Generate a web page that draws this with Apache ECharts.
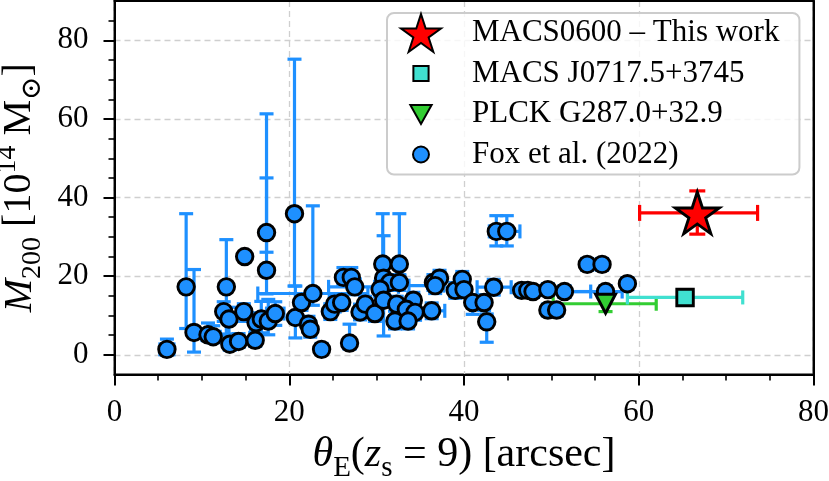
<!DOCTYPE html>
<html>
<head>
<meta charset="utf-8">
<script src="https://cdn.jsdelivr.net/npm/echarts@6/dist/echarts.min.js"></script>
<style>
  html, body { margin: 0; padding: 0; background: #fff; }
  #main { width: 829px; height: 481px; }
</style>
</head>
<body>
<div id="main"></div>
<script>
// Einstein radius theta_E(z_s=9) [arcsec] vs M200 [1e14 Msun]

// Fox et al. (2022)
var foxTheta   = [6.0, 8.2, 9.1, 10.7, 11.3, 12.8, 12.5, 13.1, 13.2, 14.2, 14.9, 14.8, 16.1, 16.2, 16.8, 17.6, 18.4, 17.4, 17.4, 20.6,
                  20.7, 21.4, 22.7, 22.2, 22.4, 23.7, 24.7, 25.2, 26.2, 27.1, 27.5, 26.0, 26.9, 28.1, 28.7, 29.8, 30.7, 32.6, 30.8, 31.5,
                  32.6, 30.4, 30.8, 32.3, 34.2, 33.4, 34.4, 36.3, 32.1, 33.6, 36.5, 37.2, 36.7, 39.0, 39.8, 40.0, 41.0, 42.3, 42.6, 43.4,
                  43.7, 44.9, 46.6, 47.3, 47.9, 49.6, 51.5, 49.6, 50.6, 54.1, 55.8, 56.2, 58.7];
var foxMass    = [1.4, 17.3, 5.7, 5.1, 4.6, 17.3, 11.0, 9.1, 2.7, 3.4, 25.0, 11.0, 3.7, 8.2, 9.1, 8.6, 10.5, 31.1, 21.5, 35.9,
                  9.5, 13.3, 15.6, 7.8, 6.5, 1.4, 11.0, 12.9, 19.7, 19.7, 17.3, 13.3, 3.0, 10.9, 12.9, 10.5, 23.1, 23.1, 19.5, 18.4,
                  18.4, 16.7, 13.9, 12.9, 13.9, 11.6, 10.8, 11.2, 8.6, 8.6, 18.4, 19.5, 17.6, 16.4, 19.2, 16.6, 13.3, 13.3, 8.4, 17.2,
                  31.4, 31.4, 16.4, 16.4, 16.1, 16.6, 16.1, 11.4, 11.4, 23.0, 23.0, 16.1, 18.1];
var foxThetaLo = [0.8, 0.3, 0.3, 0.7, 0.5, 0.3, 0.4, 0.4, 0.5, 0.5, 0.3, 0.5, 0.5, 0.5, 1.0, 0.5, 1.0, 0.3, 0.3, 0.3,
                  0.4, 0.5, 6.3, 0.5, 0.5, 0.5, 0.5, 0.5, 0.5, 0.5, 3.0, 0.5, 0.5, 0.5, 0.5, 0.5, 0.4, 0.4, 0.4, 0.5,
                  0.5, 0.5, 0.5, 0.5, 0.6, 0.5, 0.5, 0.5, 0.5, 0.5, 0.5, 0.5, 3.0, 0.5, 0.5, 0.5, 0.5, 0.5, 0.5, 1.9,
                  0.8, 1.5, 0.5, 0.5, 0.5, 0.5, 0.5, 0.5, 0.5, 0.5, 0.5, 4.7, 0.5];
var foxThetaHi = [0.8, 0.3, 0.3, 0.5, 0.8, 0.3, 0.4, 0.4, 0.5, 0.5, 0.3, 0.5, 0.5, 0.5, 1.0, 0.5, 1.0, 0.3, 0.3, 0.3,
                  0.4, 0.5, 6.3, 0.5, 0.5, 0.5, 0.5, 0.5, 0.5, 0.5, 5.0, 0.5, 0.5, 0.5, 0.5, 0.5, 0.4, 0.4, 0.4, 0.5,
                  0.5, 0.5, 0.5, 0.5, 0.6, 0.5, 0.5, 1.5, 0.5, 0.5, 0.5, 0.5, 1.0, 0.5, 0.5, 0.5, 0.5, 0.5, 0.5, 2.0,
                  0.8, 1.5, 0.5, 0.5, 0.5, 0.5, 3.0, 0.5, 0.5, 0.5, 0.5, 1.9, 0.5];
var foxMassLo  = [1.4, 10.6, 5.0, 1.5, 1.5, 12.0, 2.5, 4.0, 1.5, 1.5, 1.0, 2.5, 1.5, 2.0, 3.5, 3.5, 3.0, 5.0, 6.0, 18.4,
                  5.2, 2.0, 3.0, 2.0, 2.0, 1.0, 2.0, 2.0, 2.0, 2.0, 2.0, 2.0, 1.5, 2.0, 2.0, 2.0, 3.0, 3.0, 2.0, 2.0,
                  2.0, 2.0, 9.1, 2.0, 2.0, 2.0, 2.0, 2.0, 2.0, 2.0, 2.0, 2.0, 2.0, 2.0, 2.0, 2.0, 3.0, 2.0, 5.2, 2.0,
                  3.7, 3.7, 1.5, 1.5, 1.5, 1.5, 1.5, 1.5, 1.5, 1.5, 1.5, 1.5, 1.5];
var foxMassHi  = [2.6, 18.6, 16.0, 3.0, 2.8, 12.0, 2.5, 3.0, 2.0, 2.0, 1.0, 2.0, 2.0, 2.5, 4.5, 5.5, 3.0, 30.2, 23.5, 39.3,
                  8.0, 2.0, 22.3, 2.0, 2.0, 1.5, 2.0, 2.0, 2.5, 2.5, 2.0, 2.0, 4.8, 2.0, 2.0, 2.0, 12.8, 12.8, 10.8, 2.0,
                  2.0, 2.0, 2.0, 2.0, 2.0, 2.0, 2.0, 2.0, 2.5, 2.0, 2.0, 2.0, 2.0, 2.0, 2.0, 2.0, 2.0, 2.0, 2.0, 2.0,
                  4.0, 4.0, 1.5, 1.5, 1.5, 1.5, 1.5, 1.5, 1.5, 1.5, 1.5, 1.5, 1.5];

// single clusters: [theta, mass, thetaLo, thetaHi, massLo, massHi]
var macs0600 = [66.7, 36.1, 6.6, 6.9, 5.4, 5.6];
var macs0717 = [65.3, 14.6, 6.6, 6.6, 0.5, 0.5];
var plck287  = [56.2, 13.0, 6.0, 5.8, 2.0, 2.0];

var xTicks = [0, 20, 40, 60, 80];
var yTicks = [0, 20, 40, 60, 80];
var yMinor = [5, 10, 15, 25, 30, 35, 45, 50, 55, 65, 70, 75, 85];

var FONT = "'Liberation Serif', 'DejaVu Serif', serif";

var foxRows = foxTheta.map(function (t, i) {
    return [t, foxMass[i], foxThetaLo[i], foxThetaHi[i], foxMassLo[i], foxMassHi[i]];
});

function errRender(color, cap, width) {
    return function (params, api) {
        var x = api.value(0), y = api.value(1);
        var c = api.coord([x, y]);
        var l = api.coord([x - api.value(2), y]);
        var r = api.coord([x + api.value(3), y]);
        var lo = api.coord([x, y - api.value(4)]);
        var hi = api.coord([x, y + api.value(5)]);
        var st = { stroke: color, lineWidth: width };
        var h = cap / 2;
        var kids = [
            { type: 'line', shape: { x1: l[0], y1: c[1], x2: r[0], y2: c[1] }, style: st },
            { type: 'line', shape: { x1: l[0], y1: c[1] - h, x2: l[0], y2: c[1] + h }, style: st },
            { type: 'line', shape: { x1: r[0], y1: c[1] - h, x2: r[0], y2: c[1] + h }, style: st },
            { type: 'line', shape: { x1: c[0], y1: lo[1], x2: c[0], y2: hi[1] }, style: st },
            { type: 'line', shape: { x1: c[0] - h, y1: lo[1], x2: c[0] + h, y2: lo[1] }, style: st },
            { type: 'line', shape: { x1: c[0] - h, y1: hi[1], x2: c[0] + h, y2: hi[1] }, style: st }
        ];
        return { type: 'group', children: kids };
    };
}

var STAR = 'path://M50,0 L61.2,34.5 L97.6,34.5 L68.2,55.9 L79.4,90.5 L50,69.1 L20.6,90.5 L31.8,55.9 L2.4,34.5 L38.8,34.5 Z';
// legend icons in a 100x100 frame so they keep their relative size
var FRAME = 'M0,0 L0.01,0 M100,100 L99.99,100 ';
var ICON_SQUARE = 'path://' + FRAME + 'M30,30 L70,30 L70,70 L30,70 Z';
var ICON_TRI = 'path://' + FRAME + 'M22,26 L78,26 L50,76 Z';
var ICON_CIRCLE = 'path://' + FRAME + 'M29,50 A21,21 0 1,0 71,50 A21,21 0 1,0 29,50 Z';

function richName(size) {
    var small = Math.round(size * 0.69);
    return {
        it:  { fontFamily: FONT, fontStyle: 'italic', fontSize: size, lineHeight: size * 1.33, color: '#000' },
        rm:  { fontFamily: FONT, fontSize: size, lineHeight: size * 1.33, color: '#000' },
        sub: { fontFamily: FONT, fontSize: small, lineHeight: small, verticalAlign: 'bottom', color: '#000' },
        sup: { fontFamily: FONT, fontSize: small, lineHeight: small, verticalAlign: 'top', color: '#000' }
    };
}

var spine = { show: true, onZero: false, lineStyle: { color: '#000', width: 2 } };

var chart = echarts.init(document.getElementById('main'));
chart.setOption({
    animation: false,
    backgroundColor: '#fff',
    grid: { left: 114.5, right: 15.5, top: 1, bottom: 106.5, outerBoundsMode: 'none', containLabel: false,
            show: true, borderColor: '#000', borderWidth: 2 },
    xAxis: [{
        type: 'value', min: 0, max: 80, interval: 20,
        name: '{it|θ}{sub|E}{rm|(}{it|z}{sub|s}{rm| = 9) [arcsec]}',
        nameLocation: 'middle', nameGap: 53,
        nameTextStyle: { rich: richName(42) },
        axisLine: spine,
        axisTick: { show: true, length: 11, lineStyle: { color: '#000', width: 2 } },
        minorTick: { show: true, splitNumber: 4, length: 6, lineStyle: { color: '#000', width: 1.6 } },
        axisLabel: { margin: 23, fontSize: 31, fontFamily: FONT, color: '#000' },
        splitLine: { show: true, lineStyle: { color: '#cfcfcf', width: 1.3, type: [6, 4] } }
    }, {
        type: 'value', min: 0, max: 80, position: 'top',
        axisLine: spine, axisTick: { show: false }, axisLabel: { show: false }, splitLine: { show: false }
    }],
    yAxis: [{
        type: 'value', min: -5, max: 90,
        name: '{it|M}{sub|200}{rm| [10}{sup|14}{rm| M}{sub|⊙}{rm|]}',
        nameLocation: 'middle', nameGap: 51, nameRotate: 90,
        nameTextStyle: { rich: richName(40) },
        axisLine: spine,
        axisTick: { show: true, length: 11, customValues: yTicks, lineStyle: { color: '#000', width: 2 } },
        axisLabel: { customValues: yTicks, margin: 26, fontSize: 31, fontFamily: FONT, color: '#000' },
        splitLine: { show: true, lineStyle: { color: '#cfcfcf', width: 1.3, type: [6, 4] } }
    }, {
        type: 'value', min: -5, max: 90, position: 'left',
        axisLine: { show: false, onZero: false },
        axisTick: { show: true, length: 6, customValues: yMinor, lineStyle: { color: '#000', width: 1.6 } },
        axisLabel: { show: false },
        splitLine: { show: false }
    }, {
        type: 'value', min: -5, max: 90, position: 'right',
        axisLine: spine, axisTick: { show: false }, axisLabel: { show: false }, splitLine: { show: false }
    }],
    legend: {
        orient: 'vertical', left: 387, top: 13,
        padding: [0, 20, 0, 13],
        itemWidth: 72, itemHeight: 38, itemGap: 0.5,
        backgroundColor: 'rgba(255,255,255,0.8)',
        borderColor: '#cccccc', borderWidth: 2, borderRadius: 7,
        formatter: '{t|{name}}',
        textStyle: { fontFamily: FONT, fontSize: 31, color: '#000',
                     rich: { t: { fontFamily: FONT, fontSize: 31, color: '#000', padding: [0, 0, 0, 10] } } },
        data: [
            { name: 'MACS0600 – This work', icon: STAR },
            { name: 'MACS J0717.5+3745', icon: ICON_SQUARE },
            { name: 'PLCK G287.0+32.9', icon: ICON_TRI },
            { name: 'Fox et al. (2022)', icon: ICON_CIRCLE }
        ]
    },
    series: [
        { type: 'custom', name: 'fox-err', renderItem: errRender('#1E90FF', 14, 3.2), data: foxRows, encode: { x: 0, y: 1 }, silent: true },
        { type: 'scatter', name: 'Fox et al. (2022)', data: foxRows.map(function (r) { return [r[0], r[1]]; }),
          symbol: 'circle', symbolSize: 16.5,
          itemStyle: { color: '#1E90FF', borderColor: '#000', borderWidth: 2.9, opacity: 1 } },
        { type: 'custom', name: 'plck-err', renderItem: errRender('#32CD32', 14, 3.2), data: [plck287], encode: { x: 0, y: 1 }, silent: true },
        { type: 'scatter', name: 'PLCK G287.0+32.9', data: [[plck287[0], plck287[1]]],
          symbol: 'triangle', symbolRotate: 180, symbolSize: [20, 19],
          itemStyle: { color: '#32CD32', borderColor: '#000', borderWidth: 2.9, opacity: 1 } },
        { type: 'custom', name: 'macs0717-err', renderItem: errRender('#40E0D0', 14, 3.2), data: [macs0717], encode: { x: 0, y: 1 }, silent: true },
        { type: 'scatter', name: 'MACS J0717.5+3745', data: [[macs0717[0], macs0717[1]]],
          symbol: 'rect', symbolSize: 16.5,
          itemStyle: { color: '#40E0D0', borderColor: '#000', borderWidth: 2.9, opacity: 1 } },
        { type: 'custom', name: 'macs0600-err', renderItem: errRender('#FF0000', 16, 3.2), data: [macs0600], encode: { x: 0, y: 1 }, silent: true },
        { type: 'scatter', name: 'MACS0600 – This work', data: [[macs0600[0], macs0600[1]]],
          symbol: STAR, symbolKeepAspect: true, symbolSize: 44,
          itemStyle: { color: '#FF0000', borderColor: '#000', borderWidth: 2.9, opacity: 1 } }
    ]
});
</script>
</body>
</html>
